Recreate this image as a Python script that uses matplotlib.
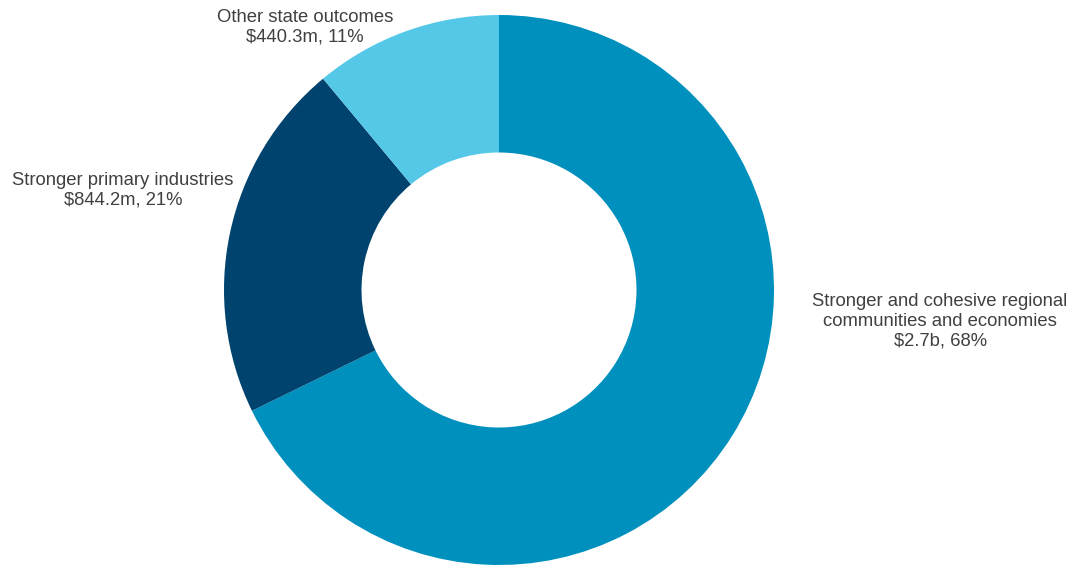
### Donut chart - funding by state outcome ###
import matplotlib.pyplot as plt

### Data ###
outcomes = ['Stronger and cohesive regional\ncommunities and economies',
            'Stronger primary industries',
            'Other state outcomes']
amounts_m = [2700.0, 844.2, 440.3]  # $m
amount_labels = ['$2.7b', '$844.2m', '$440.3m']
percents = [68, 21, 11]
colours = ['#0090BD', '#00436E', '#55C8E8']

# label spots in data units (pie radius = 1)
label_xy = [(1.604, -0.113), (-1.367, 0.364), (-0.705, 0.955)]

### Plot ###
plt.rcParams['font.family'] = ['Liberation Sans', 'DejaVu Sans']
fig = plt.figure(figsize=(10.67, 5.65), dpi=100)
ax = fig.add_axes([224 / 1067, 0, 550 / 1067, 550 / 565])

ax.pie(amounts_m, colors=colours, startangle=90, counterclock=False,
       radius=1, wedgeprops=dict(width=0.5, edgecolor='none'))
ax.set_xlim(-1, 1)
ax.set_ylim(-1, 1)
ax.set_aspect('equal')
ax.axis('off')

for name, amt, pct, (x, y) in zip(outcomes, amount_labels, percents, label_xy):
    ax.text(x, y, f"{name}\n{amt}, {pct}%", ha='center', va='center',
            fontsize=13.3, color='#404040', linespacing=1.2)

fig.savefig('out.png', dpi=100)
